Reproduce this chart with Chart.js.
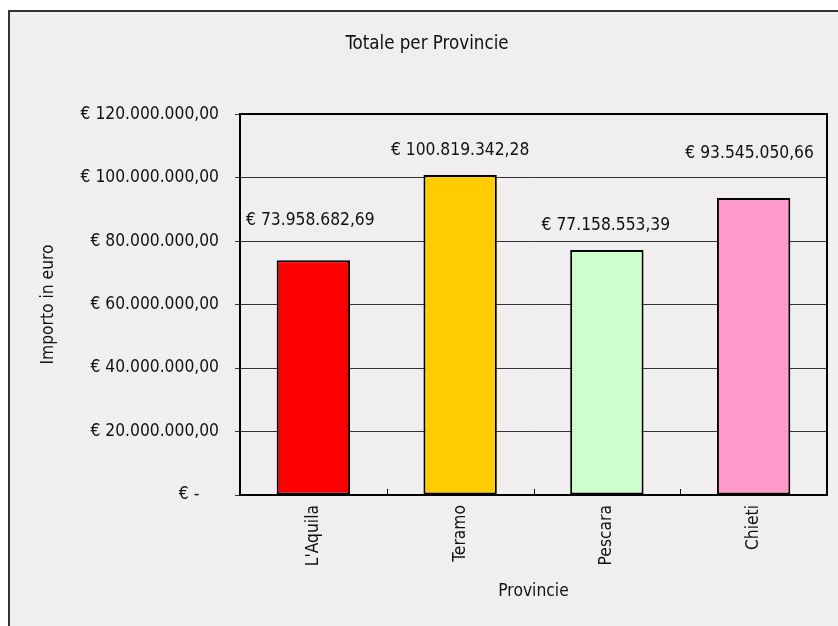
<!DOCTYPE html>
<html><head><meta charset="utf-8">
<script src="https://cdn.jsdelivr.net/npm/chart.js@4/dist/chart.umd.min.js"></script>
<style>html,body{margin:0;padding:0;background:#fff}#wrap{width:838px;height:626px}</style>
</head><body><div id="wrap"><canvas id="c" width="838" height="626"></canvas></div>
<script>
const categories = ["L'Aquila", "Teramo", "Pescara", "Chieti"];
const values = [73958682.69, 100819342.28, 77158553.39, 93545050.66];
const barColors = ['#FF0000', '#FFCC00', '#CCFFCC', '#FF99CC'];
const yTickValues = [0, 20000000, 40000000, 60000000, 80000000, 100000000, 120000000];
const chartTitle = 'Totale per Provincie';
const yTitle = 'Importo in euro';
const xTitle = 'Provincie';

// label pixel offsets above bar tops (as placed in the original)
const labelDy = [40, 24, 25, 45];
const labelDx = [-3, 0, -1, -4];

const FONT = "'DejaVu Sans Condensed', 'Liberation Sans Narrow', sans-serif";
const FS = 17.3;
Chart.defaults.font.family = FONT;
Chart.defaults.color = '#111';

function euro(v) {
  if (v === 0) return '€ -    ';
  const parts = v.toFixed(2).split('.');
  const intp = parts[0].replace(/\B(?=(\d{3})+(?!\d))/g, '.');
  return '€ ' + intp + ',' + parts[1];
}

const bgPlugin = {
  id: 'bg',
  beforeDraw(chart) {
    const ctx = chart.ctx;
    ctx.save();
    ctx.fillStyle = '#ffffff';
    ctx.fillRect(0, 0, chart.width, chart.height);
    ctx.fillStyle = '#F0EEEF';
    ctx.fillRect(9, 11, chart.width - 9, chart.height - 11);
    ctx.strokeStyle = '#333333';
    ctx.lineWidth = 2;
    ctx.beginPath();
    ctx.moveTo(9, chart.height);
    ctx.lineTo(9, 11);
    ctx.lineTo(chart.width, 11);
    ctx.stroke();
    ctx.restore();
  }
};

const framePlugin = {
  id: 'frame',
  afterDatasetsDraw(chart) {
    const ctx = chart.ctx;
    const a = chart.chartArea;
    const xs = chart.scales.x;
    ctx.save();
    ctx.strokeStyle = '#000';
    ctx.lineWidth = 1;
    for (let i = 1; i < categories.length; i++) {
      const bx = Math.round((xs.getPixelForValue(i - 1) + xs.getPixelForValue(i)) / 2) + 0.5;
      ctx.beginPath();
      ctx.moveTo(bx, a.bottom);
      ctx.lineTo(bx, a.bottom - 6);
      ctx.stroke();
    }
    ctx.lineWidth = 2;
    ctx.strokeRect(a.left, a.top, a.right - a.left, a.bottom - a.top);
    // data labels
    const meta = chart.getDatasetMeta(0);
    ctx.fillStyle = '#111';
    ctx.font = FS + "px " + FONT;
    ctx.textAlign = 'center';
    ctx.textBaseline = 'middle';
    meta.data.forEach((bar, i) => {
      ctx.fillText(euro(values[i]), bar.x + labelDx[i], bar.y - labelDy[i]);
    });
    ctx.restore();
  }
};

new Chart(document.getElementById('c'), {
  type: 'bar',
  data: {
    labels: categories,
    datasets: [{
      data: values,
      backgroundColor: barColors,
      borderColor: '#000',
      borderWidth: 2,
      borderSkipped: false,
      categoryPercentage: 1.0,
      barPercentage: 0.5
    }]
  },
  options: {
    responsive: false,
    animation: false,
    layout: { padding: { left: 27, right: 11, top: 0, bottom: 0 } },
    plugins: {
      legend: { display: false },
      tooltip: { enabled: false },
      title: {
        display: true,
        text: chartTitle,
        color: '#111',
        font: { size: 18.6, weight: 'normal', family: FONT, lineHeight: 1.2 },
        padding: { top: 33, bottom: 58.7 }
      }
    },
    scales: {
      x: {
        grid: { display: false, drawTicks: false },
        border: { display: false },
        ticks: {
          minRotation: 90, maxRotation: 90, padding: 10,
          color: '#111',
          font: { size: FS, family: FONT }
        },
        title: {
          display: true, text: xTitle, color: '#111',
          font: { size: FS, family: FONT, lineHeight: 1.2 },
          padding: { top: 0, bottom: 24 }
        },
        afterFit(scale) { scale.height = 131; }
      },
      y: {
        min: 0, max: 120000000,
        afterBuildTicks(scale) { scale.ticks = yTickValues.map(v => ({ value: v })); },
        grid: { color: '#333', lineWidth: 1, tickLength: 5, drawTicks: true },
        border: { display: false },
        ticks: {
          padding: 16, color: '#111',
          font: { size: FS, family: FONT },
          callback: (v) => euro(v)
        },
        title: {
          display: true, text: yTitle, color: '#111',
          font: { size: FS, family: FONT, lineHeight: 1.2 },
          padding: { top: 11, bottom: 0 }
        },
        afterFit(scale) { scale.width = 213; }
      }
    }
  },
  plugins: [bgPlugin, framePlugin]
});
</script>
</body></html>
